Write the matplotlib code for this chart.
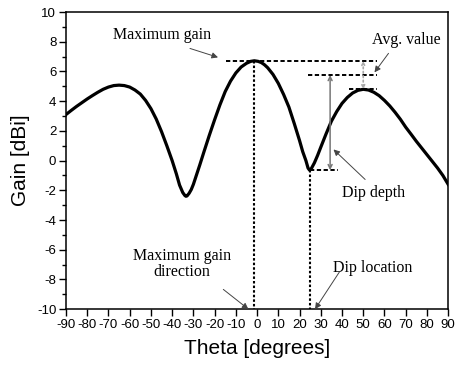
import numpy as np
import matplotlib.pyplot as plt
import matplotlib

matplotlib.rc('font', family='Liberation Sans', size=8)
matplotlib.rc('axes', unicode_minus=False)

theta = [-90, -87.5, -85, -82.5, -80, -77.5, -75, -72.5, -70, -67.5, -65,
         -62.5, -60, -57.5, -55, -52.5, -50, -47.5, -45, -42.5, -40, -38,
         -36.5, -35, -34, -33.5, -33, -32, -31, -30, -28.5, -27, -25, -22.5,
         -20, -17.5, -15, -12.5, -10, -7.5, -5, -3, -1.3, 0.5, 2, 3.5, 5, 7.5,
         10, 12.5, 15, 17.5, 20, 21.5, 23, 24, 24.7, 25.5, 27, 28.5, 30, 32.5,
         35, 37.5, 40, 42.5, 45, 47.5, 50, 52.5, 55, 57.5, 60, 62.5, 65, 67.5,
         70, 72.5, 75, 77.5, 80, 82.5, 85, 87.5, 90]
gain = [3.1, 3.38, 3.65, 3.9, 4.15, 4.38, 4.6, 4.8, 4.95, 5.05, 5.08,
        5.05, 4.95, 4.75, 4.48, 4.05, 3.5, 2.8, 1.95, 1.0, 0.0, -0.9,
        -1.65, -2.15, -2.35, -2.4, -2.38, -2.2, -1.95, -1.6, -0.95, -0.3, 0.6, 1.7,
        2.75, 3.75, 4.65, 5.35, 5.9, 6.3, 6.55, 6.68, 6.72, 6.68, 6.6, 6.45, 6.25, 5.8,
        5.2, 4.45, 3.6, 2.5, 1.35, 0.6, 0.0, -0.5, -0.64, -0.55, -0.15, 0.35, 0.9, 1.8,
        2.65, 3.3, 3.85, 4.25, 4.55, 4.73, 4.8, 4.75, 4.6, 4.37, 4.05, 3.68, 3.25, 2.78,
        2.25, 1.78, 1.3, 0.85, 0.4, -0.05, -0.5, -1.0, -1.6]

theta_max, gain_max = -1.3, 6.72     # main lobe
theta_sec, gain_sec = 50, 4.8        # second lobe
theta_dip, gain_dip = 24.7, -0.64    # dip between them
gain_avg = (gain_max + gain_sec) / 2

serif = dict(family='Liberation Serif', fontsize=11.5)
arrow = dict(arrowstyle='-|>', color='#444444', lw=0.7,
             mutation_scale=9, shrinkA=0, shrinkB=0)

fig = plt.figure(figsize=(4.55, 3.65), dpi=100)
ax = fig.add_axes([0.145, 0.153, 0.84, 0.814])

ax.plot(theta, gain, 'k', linewidth=2.3, solid_joinstyle='round')

# reference lines
dash = dict(color='k', linewidth=1.4, linestyle=(0, (2.2, 1.3)))
ax.plot([-14.6, 56.4], [gain_max, gain_max], **dash)
ax.plot([24.2, 56.4], [gain_avg, gain_avg], **dash)
ax.plot([43.4, 56.5], [gain_sec, gain_sec], **dash)
ax.plot([theta_dip, 38.2], [gain_dip, gain_dip], **dash)
dot = dict(color='k', linewidth=1.5, linestyle=(0, (1.2, 1.0)))
ax.plot([theta_max, theta_max], [gain_max, -10], **dot)
ax.plot([theta_dip, theta_dip], [gain_dip, -10], **dot)

# dip depth and avg arrows
ax.annotate('', xy=(34.4, gain_dip), xytext=(34.4, gain_avg),
            arrowprops=dict(arrowstyle='<->', color='#777777', lw=1.1,
                            mutation_scale=7, shrinkA=0, shrinkB=0))
ax.annotate('', xy=(50, gain_sec), xytext=(50, gain_max),
            arrowprops=dict(arrowstyle='<->', color='#aaaaaa', lw=1.2,
                            linestyle=':', mutation_scale=5, shrinkA=0, shrinkB=0))

ax.text(-44.8, 8.45, 'Maximum gain', ha='center', va='center', **serif)
ax.annotate('', xy=(-18.4, 6.95), xytext=(-31.6, 7.55), arrowprops=arrow)
ax.text(70.2, 8.11, 'Avg. value', ha='center', va='center', **serif)
ax.annotate('', xy=(55.3, 5.94), xytext=(61.9, 7.22), arrowprops=arrow)
ax.text(54.7, -2.17, 'Dip depth', ha='center', va='center', **serif)
ax.annotate('', xy=(36, 0.75), xytext=(50.9, -1.27), arrowprops=arrow)
ax.text(-35.3, -6.97, 'Maximum gain\ndirection', ha='center', va='center',
        linespacing=1.05, **serif)
ax.annotate('', xy=(-4.1, -10.0), xytext=(-15.9, -8.67), arrowprops=arrow)
ax.text(54.6, -7.26, 'Dip location', ha='center', va='center', **serif)
ax.annotate('', xy=(27.3, -10.0), xytext=(38.8, -7.49), arrowprops=arrow)

ax.set_xlim(-90, 90)
ax.set_ylim(-10, 10)
ax.set_xticks(np.arange(-90, 91, 10))
ax.set_yticks(np.arange(-10, 11, 2))
ax.set_yticks(np.arange(-10, 11, 1), minor=True)
ax.tick_params(direction='out', length=5, width=1, pad=2, labelsize=9.5)
ax.tick_params(which='minor', direction='out', length=3, width=1)
for s in ax.spines.values():
    s.set_linewidth(1.1)

ax.set_xlabel('Theta [degrees]', fontsize=15, labelpad=6)
ax.set_ylabel('Gain [dBi]', fontsize=15, labelpad=5)

plt.savefig('out.png', dpi=100)
